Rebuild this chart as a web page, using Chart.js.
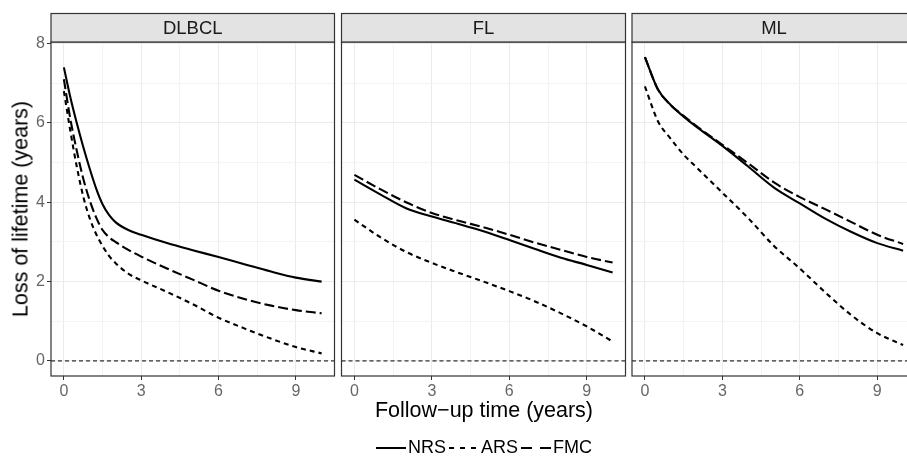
<!DOCTYPE html>
<html>
<head>
<meta charset="utf-8">
<script src="https://cdn.jsdelivr.net/npm/chart.js@4"></script>
<style>
  body { margin: 0; width: 907px; height: 468px; overflow: hidden; background: #fff; position: relative;
         font-family: "Liberation Sans", Arial, sans-serif; }
  canvas { position: absolute; top: 0; }
  .ytitle { position: absolute; left: 21px; top: 209px; transform: translate(-50%, -50%) rotate(-90deg);
            font-size: 21.5px; white-space: nowrap; color: #000; }
  .xtitle { position: absolute; left: 484px; top: 398px; transform: translateX(-50%);
            font-size: 21.5px; white-space: nowrap; color: #000; }
  .legend { position: absolute; left: 484px; top: 437px; transform: translateX(-50%); font-size: 18px; color: #000;
            white-space: nowrap; display: flex; align-items: center; }
  .key { display: inline-block; width: 30px; height: 2px; margin-right: 2px; }
  .key.nrs { background: #000; }
  .key.ars { background: repeating-linear-gradient(90deg, #000 0 5px, transparent 5px 11px); margin-left: 3px; }
  .key.fmc { background: repeating-linear-gradient(90deg, #000 0 11px, transparent 11px 19px); margin-left: 3px; }
</style>
</head>
<body>
<canvas id="c1" width="340" height="400" style="left:0px"></canvas>
<canvas id="c2" width="295" height="400" style="left:336px"></canvas>
<canvas id="c3" width="300" height="400" style="left:626px"></canvas>
<div class="ytitle">Loss of lifetime (years)</div>
<div class="xtitle">Follow−up time (years)</div>
<div class="legend"><span class="key nrs"></span>NRS<span class="key ars"></span>ARS<span class="key fmc"></span>FMC</div>
<script>
// facets
var panels = ['DLBCL', 'FL', 'ML'];

// follow-up time points (years)
var timesDLBCL = [0, 0.25, 0.5, 0.75, 1, 1.25, 1.5, 1.75, 2, 2.5, 3, 4, 5, 6, 7, 8, 9, 10];
var timesFL = [0, 1, 2, 3, 4, 5, 6, 7, 8, 9, 10];
var timesML = [0, 0.5, 1, 1.5, 2, 3, 4, 5, 6, 7, 8, 9, 10];

// loss of lifetime (years)
var nrsDLBCL = [7.4, 6.65, 6.0, 5.4, 4.85, 4.35, 3.95, 3.68, 3.5, 3.3, 3.18, 2.97, 2.79, 2.62, 2.44, 2.26, 2.1, 2.0];
var arsDLBCL = [6.8, 5.8, 4.9, 4.15, 3.6, 3.2, 2.9, 2.65, 2.47, 2.2, 2.03, 1.74, 1.43, 1.09, 0.82, 0.57, 0.35, 0.19];
var fmcDLBCL = [7.1, 6.1, 5.3, 4.6, 4.05, 3.62, 3.3, 3.12, 3.0, 2.8, 2.63, 2.33, 2.05, 1.77, 1.56, 1.4, 1.28, 1.2];

var nrsFL = [4.57, 4.2, 3.85, 3.64, 3.46, 3.27, 3.05, 2.82, 2.6, 2.42, 2.23];
var arsFL = [3.56, 3.12, 2.75, 2.47, 2.23, 2.0, 1.76, 1.5, 1.2, 0.87, 0.49];
var fmcFL = [4.69, 4.33, 4.0, 3.73, 3.54, 3.37, 3.18, 2.98, 2.8, 2.62, 2.48];

var nrsML = [7.66, 6.85, 6.45, 6.16, 5.9, 5.42, 4.9, 4.37, 3.97, 3.58, 3.25, 2.97, 2.78];
var arsML = [6.92, 6.05, 5.6, 5.2, 4.88, 4.24, 3.6, 2.9, 2.33, 1.72, 1.15, 0.7, 0.4];
var fmcML = [7.66, 6.85, 6.45, 6.18, 5.92, 5.45, 4.98, 4.5, 4.13, 3.82, 3.5, 3.18, 2.95];

// axes
var xGrid = [0, 1.5, 3, 4.5, 6, 7.5, 9];
var xLabels = [0, 3, 6, 9];
var yGrid = [0, 1, 2, 3, 4, 5, 6, 7, 8];
var yLabels = [0, 2, 4, 6, 8];
var refLine = 0;

var font = '"Liberation Sans", Arial, sans-serif';

function pts(times, vals) {
  return times.map(function(t, i) { return { x: t, y: vals[i] }; });
}

// panel border, strip and the dashed zero line, ggplot style
var panelFrame = {
  id: 'panelFrame',
  afterDatasetsDraw: function(chart, args, opts) {
    var ctx = chart.ctx, a = chart.chartArea;
    var y0 = chart.scales.y.getPixelForValue(refLine);
    ctx.save();
    ctx.strokeStyle = '#000';
    ctx.lineWidth = 1;
    ctx.setLineDash([4, 3]);
    ctx.beginPath();
    ctx.moveTo(a.left, y0);
    ctx.lineTo(a.right, y0);
    ctx.stroke();
    ctx.setLineDash([]);
    ctx.strokeStyle = '#333';
    ctx.lineWidth = 1.2;
    ctx.strokeRect(a.left, a.top, a.right - a.left, a.bottom - a.top);
    var st = a.top - 28.5;
    ctx.fillStyle = '#E3E3E3';
    ctx.fillRect(a.left, st, a.right - a.left, a.top - st);
    ctx.strokeRect(a.left, st, a.right - a.left, a.top - st);
    ctx.fillStyle = '#1A1A1A';
    ctx.font = '18.5px ' + font;
    ctx.textAlign = 'center';
    ctx.textBaseline = 'middle';
    ctx.fillText(opts.label, (a.left + a.right) / 2, (st + a.top) / 2 + 1);
    ctx.restore();
  }
};

function makeChart(id, label, times, nrs, ars, fmc, showY, padL, padR) {
  var line = { borderColor: '#000', borderWidth: 2.1, pointRadius: 0, fill: false,
               cubicInterpolationMode: 'monotone' };
  return new Chart(document.getElementById(id), {
    type: 'line',
    data: {
      datasets: [
        Object.assign({ label: 'NRS', data: pts(times, nrs), borderDash: [] }, line),
        Object.assign({ label: 'ARS', data: pts(times, ars), borderDash: [5, 4] }, line),
        Object.assign({ label: 'FMC', data: pts(times, fmc), borderDash: [10, 4] }, line)
      ]
    },
    options: {
      responsive: false,
      animation: false,
      devicePixelRatio: 1,
      layout: { padding: { top: 42, left: padL, right: padR, bottom: 0 } },
      plugins: { legend: { display: false }, tooltip: { enabled: false }, panelFrame: { label: label } },
      scales: {
        x: {
          type: 'linear', min: -0.5, max: 10.5,
          afterBuildTicks: function(s) { s.ticks = xGrid.map(function(v) { return { value: v }; }); },
          afterFit: function(s) { s.height = 24; },
          border: { display: false },
          grid: {
            lineWidth: 1,
            color: function(c) { return xLabels.indexOf(c.tick.value) >= 0 ? '#EBEBEB' : '#F4F4F4'; },
            tickColor: function(c) { return xLabels.indexOf(c.tick.value) >= 0 ? '#333' : 'rgba(0,0,0,0)'; },
            tickLength: 4
          },
          ticks: {
            autoSkip: false, maxRotation: 0, padding: 2, color: '#666',
            font: { family: font, size: 16 },
            callback: function(v) { return xLabels.indexOf(v) >= 0 ? String(v) : ''; }
          }
        },
        y: {
          type: 'linear', min: -0.38, max: 8.04,
          afterBuildTicks: function(s) { s.ticks = yGrid.map(function(v) { return { value: v }; }); },
          afterFit: function(s) { s.width = showY ? 51 : 0; },
          border: { display: false },
          grid: {
            lineWidth: 1,
            drawTicks: showY,
            color: function(c) { return yLabels.indexOf(c.tick.value) >= 0 ? '#EBEBEB' : '#F4F4F4'; },
            tickColor: function(c) { return yLabels.indexOf(c.tick.value) >= 0 ? '#333' : 'rgba(0,0,0,0)'; },
            tickLength: 4
          },
          ticks: {
            display: showY, padding: 2, color: '#666',
            font: { family: font, size: 16 },
            callback: function(v) { return yLabels.indexOf(v) >= 0 ? String(v) : ''; }
          }
        }
      }
    },
    plugins: [panelFrame]
  });
}

makeChart('c1', panels[0], timesDLBCL, nrsDLBCL, arsDLBCL, fmcDLBCL, true, 0, 5.5);
makeChart('c2', panels[1], timesFL, nrsFL, arsFL, fmcFL, false, 5.5, 5.5);
makeChart('c3', panels[2], timesML, nrsML, arsML, fmcML, false, 6, 10);
</script>
</body>
</html>
